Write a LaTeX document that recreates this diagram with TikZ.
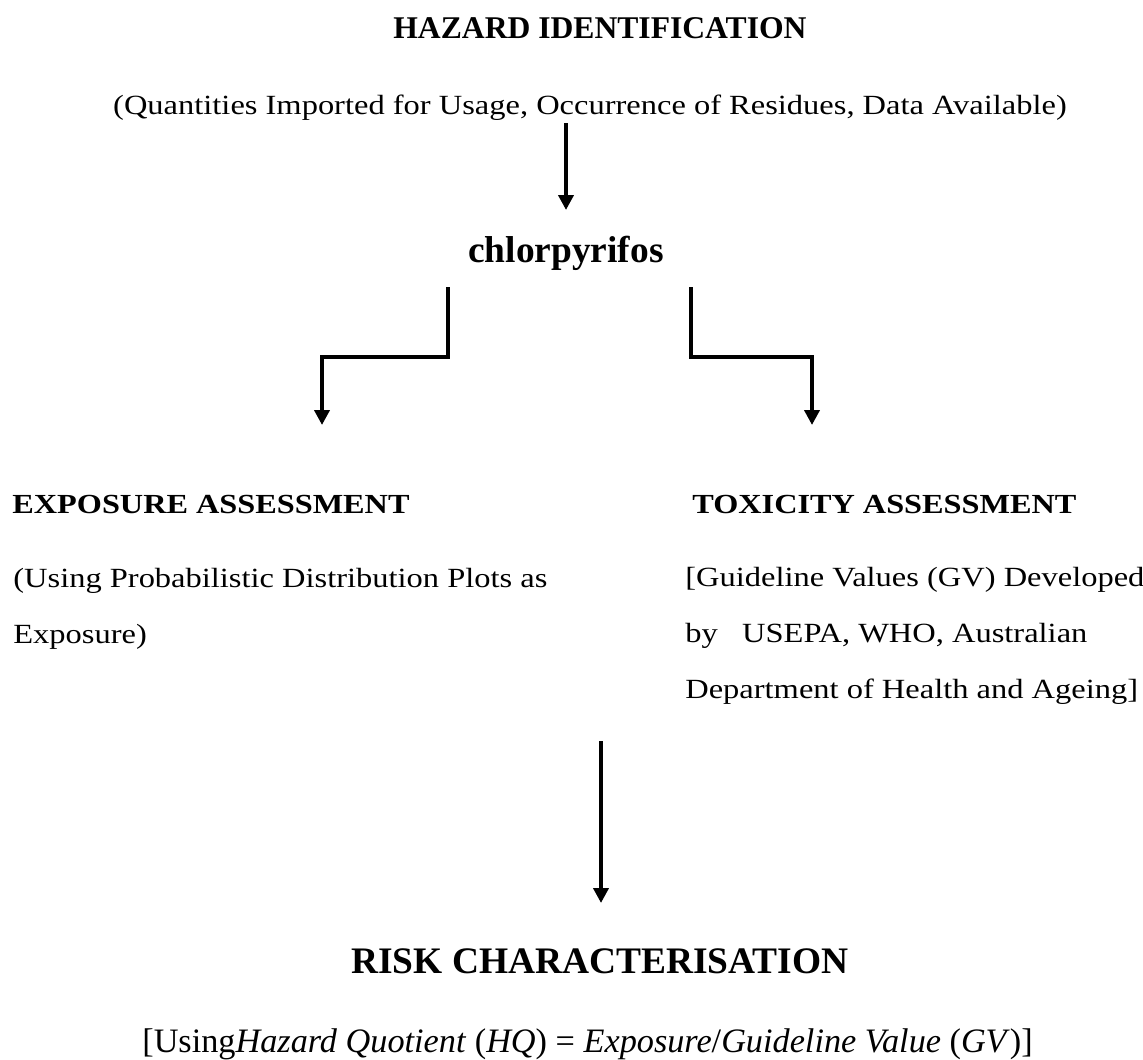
\documentclass[tikz,border=0pt]{standalone}
\usepackage{fontspec}
\setmainfont[FakeStretch=1.17]{Liberation Serif}
\newfontfamily\headfont{Liberation Serif}
\usetikzlibrary{arrows.meta,positioning}

\begin{document}
\begin{tikzpicture}[x=0.02cm,y=-0.02cm,
        title/.style={font=\headfont\fontsize{18}{22}\selectfont\bfseries, inner sep=0pt},
        bigtitle/.style={font=\headfont\fontsize{21.3}{26}\selectfont\bfseries, inner sep=0pt},
        subtitle/.style={font=\fontsize{15.7}{20}\selectfont\bfseries, inner sep=0pt},
        body/.style={font=\fontsize{15.8}{31.6}\selectfont, inner sep=0pt, align=left},
        flow/.style={line width=2.2pt, -{Triangle[width=8.5pt,length=8.5pt]}}]
    \useasboundingbox (0,0) rectangle (1143,1059);

    % top
    \node[title,anchor=base] (hazard) at (600,38) {HAZARD IDENTIFICATION};
    \node[body,anchor=base] (quantities) at (590,114) {(Quantities Imported for Usage, Occurrence of Residues, Data Available)};
    \node[bigtitle,anchor=base] (chlor) at (566,262) {chlorpyrifos};

    % assessments
    \node[subtitle,anchor=base west] (expo) at (12,513) {EXPOSURE ASSESSMENT};
    \node[subtitle,anchor=base west] (toxi) at (692,513) {TOXICITY ASSESSMENT};
    \node[body,anchor=base west] (expotext) at (13,643) {(Using Probabilistic Distribution Plots as\\Exposure)};
    \node[body,anchor=base west] (toxitext) at (685,698) {[Guideline Values (GV) Developed\\by\ \ \ USEPA, WHO, Australian\\Department of Health and Ageing]};

    % bottom
    \node[bigtitle,anchor=base] (risk) at (600,973) {RISK CHARACTERISATION};
    \node[body,font=\headfont\fontsize{19.5}{24}\selectfont,anchor=base west] (hq) at (142,1052) {[Using\textit{Hazard Quotient} (\textit{HQ})\ =\ \textit{Exposure}/\textit{Guideline Value} (\textit{GV})]};

    % connectors
    \coordinate (a1) at (566,123);
    \coordinate (b1) at (566,210);
    \coordinate (a2) at (448,287);
    \coordinate (b2) at (322,425);
    \coordinate (a3) at (691,287);
    \coordinate (b3) at (812,425);
    \coordinate (a4) at (601,741);
    \coordinate (b4) at (601,903);
    \draw[flow] (a1) -- (b1);
    \draw[flow] (a2) -- ++(0,70) -| (b2);
    \draw[flow] (a3) -- ++(0,70) -| (b3);
    \draw[flow] (a4) -- (b4);
\end{tikzpicture}
\end{document}
